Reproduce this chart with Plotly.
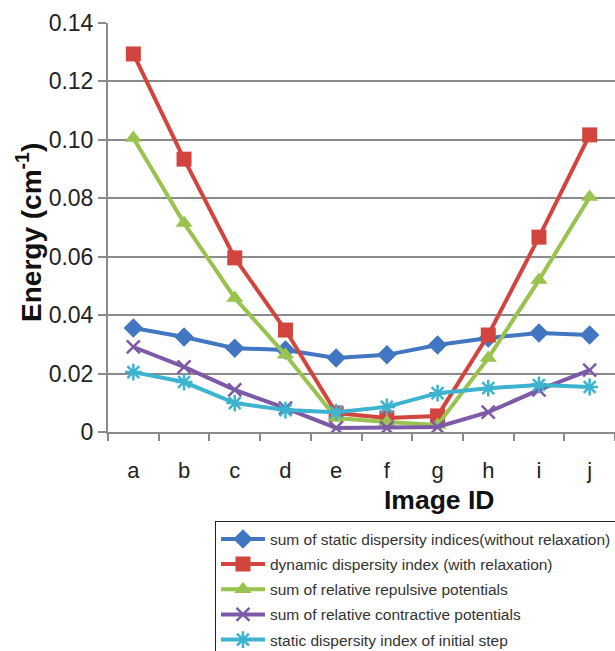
import plotly.graph_objects as go

categories = ["a", "b", "c", "d", "e", "f", "g", "h", "i", "j"]
static_sum = [0.0356, 0.0325, 0.0287, 0.0281, 0.0253, 0.0264, 0.0298, 0.0322, 0.0339, 0.0332]
dynamic_idx = [0.1294, 0.0934, 0.0596, 0.0349, 0.0065, 0.0048, 0.0055, 0.0332, 0.0667, 0.1017]
repulsive = [0.1006, 0.0715, 0.0459, 0.0264, 0.0048, 0.0034, 0.0024, 0.0253, 0.0520, 0.0804]
contractive = [0.0291, 0.0223, 0.0144, 0.0082, 0.0014, 0.0014, 0.0017, 0.0068, 0.0144, 0.0212]
initial_step = [0.0205, 0.0171, 0.0099, 0.0075, 0.0068, 0.0086, 0.0133, 0.0150, 0.0161, 0.0154]

names = [
    "sum of static dispersity indices(without relaxation)",
    "dynamic dispersity index (with relaxation)",
    "sum of relative repulsive potentials",
    "sum of relative contractive potentials",
    "static dispersity index of initial step",
]
series = [static_sum, dynamic_idx, repulsive, contractive, initial_step]
colors = ["#4276c2", "#d2453f", "#99c24f", "#7d5aa8", "#3db3cf"]
symbols = ["diamond", "square", "triangle-up", "x-thin", "asterisk"]
sizes = [15, 15, 15, 13, 14]

fig = go.Figure()
for i, (nm, vals) in enumerate(zip(names, series)):
    line_marker = dict(width=0)
    if symbols[i] in ("x-thin", "asterisk"):
        line_marker = dict(width=2.5, color=colors[i])
    fig.add_trace(go.Scatter(
        x=categories, y=vals, name=nm, mode="lines+markers",
        line=dict(color=colors[i], width=4),
        marker=dict(symbol=symbols[i], size=sizes[i], color=colors[i], line=line_marker),
        legendgroup=f"g{i}",
    ))

fig.update_layout(
    width=615, height=651,
    margin=dict(l=108, r=0, t=23, b=219, autoexpand=False),
    paper_bgcolor="white", plot_bgcolor="white",
    font=dict(family="Liberation Sans, Arial, sans-serif", color="#222"),
    showlegend=True,
    legend=dict(
        x=0.211, y=-0.2185, xanchor="left", yanchor="top",
        bordercolor="#222", borderwidth=1,
        font=dict(size=15.5, color="#333"),
        tracegroupgap=2, itemwidth=44,
        bgcolor="white",
    ),
    annotations=[
        dict(text="<b>Image ID</b>", x=0.653, y=-0.166, xref="paper", yref="paper",
             showarrow=False, font=dict(size=26.5, color="#111"), xanchor="center", yanchor="middle"),
        dict(text="<b>Energy (cm<sup>-1</sup>)</b>", x=-0.156, y=0.489, xref="paper", yref="paper",
             showarrow=False, textangle=-90, font=dict(size=28, color="#111"),
             xanchor="center", yanchor="middle"),
    ],
)

fig.update_xaxes(
    type="category", categoryorder="array", categoryarray=categories,
    range=[-0.5, 9.5],
    showline=True, linecolor="#8a8a8a", linewidth=2,
    showgrid=False, ticks="outside", tickson="boundaries", ticklen=7,
    tickcolor="#8a8a8a", tickwidth=2,
    tickfont=dict(size=22, color="#222"), ticklabelstandoff=18,
)
fig.update_yaxes(
    range=[0, 0.14], tickvals=[0, 0.02, 0.04, 0.06, 0.08, 0.10, 0.12, 0.14],
    ticktext=["0", "0.02", "0.04", "0.06", "0.08", "0.10", "0.12", "0.14"],
    showline=True, linecolor="#8a8a8a", linewidth=2,
    showgrid=True, gridcolor="#8a8a8a", gridwidth=2,
    ticks="outside", ticklen=8, tickcolor="#8a8a8a", tickwidth=2,
    tickfont=dict(size=23, color="#222"), zeroline=False,
)

fig.write_html("out.html")
